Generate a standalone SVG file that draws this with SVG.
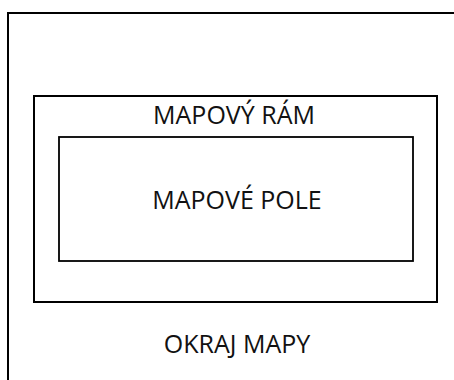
<svg xmlns="http://www.w3.org/2000/svg" width="454" height="380" viewBox="0 0 454 380">
  <style>
    .box { fill: none; stroke: #000; }
    .label { font-family: "Open Sans", "Liberation Sans", sans-serif; font-size: 25px; fill: #111; text-anchor: middle; }
  </style>
  <rect width="454" height="380" fill="#fff"/>
  <!-- map sheet edge (runs past the right and bottom of the view) -->
  <g id="okraj-mapy">
    <rect class="box" x="8" y="13" width="470" height="400" stroke-width="2"/>
    <text class="label" x="237" y="353">OKRAJ MAPY</text>
  </g>
  <!-- map frame -->
  <g id="mapovy-ram">
    <rect class="box" x="34" y="96" width="403" height="206" stroke-width="2"/>
    <text class="label" x="234" y="124">MAPOVÝ RÁM</text>
  </g>
  <!-- map field -->
  <g id="mapove-pole">
    <rect class="box" x="59" y="137" width="354" height="124" stroke-width="1.8"/>
    <text class="label" x="237" y="209">MAPOVÉ POLE</text>
  </g>
  <g id="connectors"/>
</svg>
